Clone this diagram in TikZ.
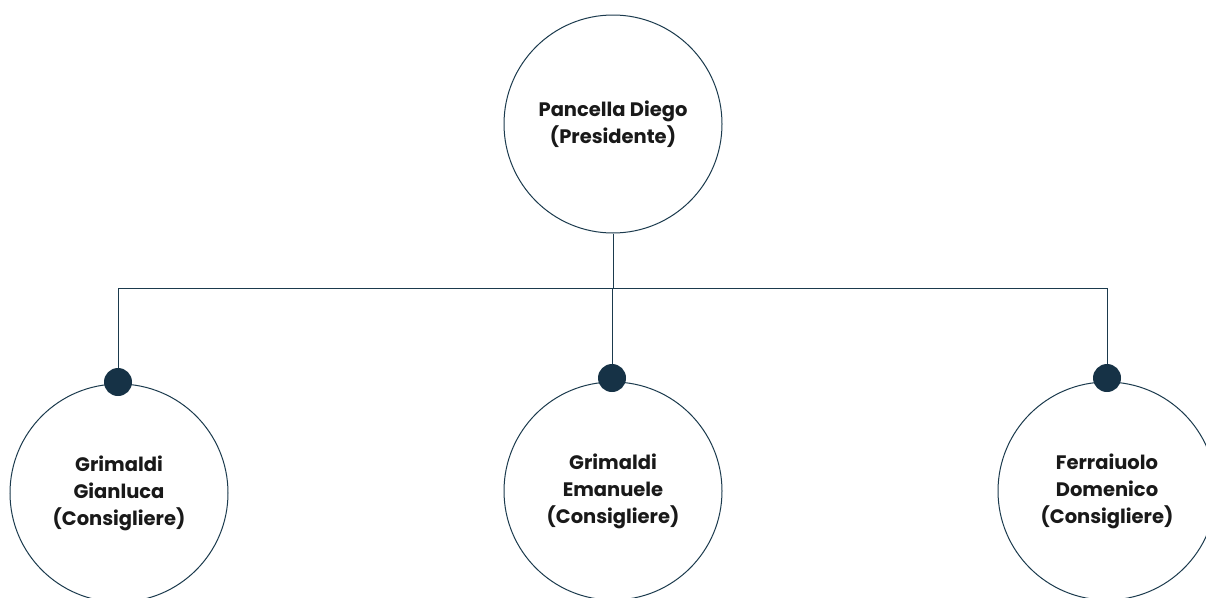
\documentclass[tikz,border=0pt]{standalone}
\usepackage{fontspec}
\setmainfont{Poppins}
\usetikzlibrary{positioning}
\definecolor{navy}{HTML}{1B3A4D}
\definecolor{dotnavy}{HTML}{163246}
\tikzset{
  member/.style={circle, draw=navy, line width=1pt, minimum size=218pt, inner sep=0pt,
    align=center, font=\fontsize{19.5}{27}\selectfont\bfseries, text=black!90},
  joint/.style={circle, fill=dotnavy, minimum size=28pt, inner sep=0pt},
  wire/.style={draw=navy, line width=1pt}
}
\begin{document}
\begin{tikzpicture}[x=1pt,y=-1pt]
    \useasboundingbox (0,0) rectangle (1206,597);

    % President
    \node[member] (pres) at (613,124) {Pancella Diego\\(Presidente)};

    % Board members
    \node[member] (gianluca) at (119,493) {Grimaldi\\Gianluca\\(Consigliere)};
    \node[member] (emanuele) at (613,491) {Grimaldi\\Emanuele\\(Consigliere)};
    \node[member] (domenico) at (1107,491) {Ferraiuolo\\Domenico\\(Consigliere)};

    % Bus line
    \coordinate (bus) at (613,288);

    % Filled dots on top of the circles
    \node[joint] (jgianluca) at (118,382) {};
    \node[joint] (jemanuele) at (612,378) {};
    \node[joint] (jdomenico) at (1107,378) {};

    % Connectors
    \draw[wire] (pres.south) -- (pres.south |- bus);
    \draw[wire] (jgianluca.center |- bus) -- (jdomenico.center |- bus);
    \draw[wire] (jgianluca.center |- bus) -- (jgianluca.north);
    \draw[wire] (jemanuele.center |- bus) -- (jemanuele.north);
    \draw[wire] (jdomenico.center |- bus) -- (jdomenico.north);
\end{tikzpicture}
\end{document}
